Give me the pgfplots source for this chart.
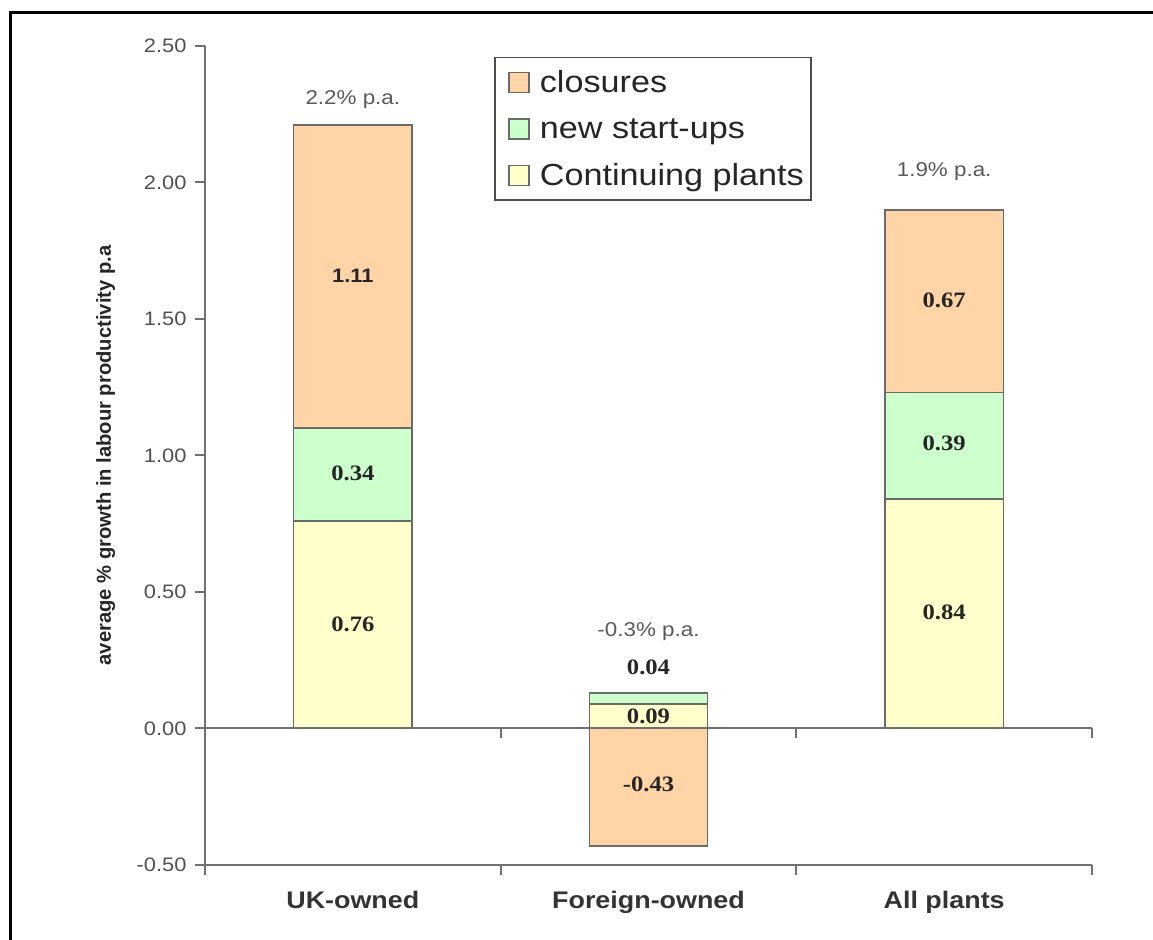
\documentclass[border=0pt]{standalone}
\usepackage{fontspec}
\setmainfont{Liberation Sans}[FakeStretch=1.12]
\newfontfamily\labelfont{Liberation Sans}
\newfontfamily\serifb{Liberation Serif}[FakeStretch=1.12]
\usepackage{pgfplots}
\usepackage{pgfplotstable}
\pgfplotsset{compat=1.18}
\definecolor{clos}{HTML}{FFD4A6}
\definecolor{start}{HTML}{CCFFCC}
\definecolor{cont}{HTML}{FFFFCC}
\definecolor{edge}{HTML}{6A6A6A}
\definecolor{axisgray}{HTML}{707070}
\definecolor{ticktext}{HTML}{505050}
\pgfplotstableread{
x    cont  start  clos
0.5  0.76  0.34   1.11
1.5  0.09  0.04  -0.43
2.5  0.84  0.39   0.67
}\datatab
\begin{document}
\begin{tikzpicture}[x=1pt,y=1pt]
\useasboundingbox (-205pt,-74pt) rectangle (948pt,865pt);
\draw[black, line width=3pt] (-194pt,-80pt) -- (-194pt,852pt) -- (960pt,852pt);
\begin{axis}[
  at={(0pt,0pt)}, anchor=south west,
  scale only axis, width=887pt, height=819pt,
  xmin=0, xmax=3, ymin=-0.5, ymax=2.5,
  ybar, bar width=0.4, bar shift=0pt,
  axis y line*=left, axis x line*=bottom,
  axis line style={axisgray, line width=2pt},
  every tick/.style={axisgray, line width=2pt},
  tick align=outside, major tick length=10pt,
  xtick={0,1,2,3}, xticklabels={},
  extra x ticks={0.5,1.5,2.5},
  extra x tick labels={UK-owned,Foreign-owned,All plants},
  extra x tick style={major tick length=0pt,
    tick label style={font=\fontsize{24}{28}\selectfont\bfseries, text=black!80, yshift=-23pt}},
  ytick={-0.5,0,0.5,1,1.5,2,2.5},
  yticklabel style={font=\fontsize{19.5}{23}\selectfont, text=ticktext, xshift=-5pt, /pgf/number format/.cd, fixed, fixed zerofill, precision=2, assume math mode=true},
  ylabel={average \% growth in labour productivity p.a},
  ylabel style={font=\labelfont\fontsize{20.2}{23}\selectfont\bfseries, text=black!85, at={(axis description cs:-0.112,0.5)}, anchor=center},
  legend style={at={(rel axis cs:0.326,0.9866)}, anchor=north west, draw=black!70, line width=1.5pt,
    font=\fontsize{30.5}{36}\selectfont, text=black!85, inner xsep=5pt, inner ysep=11pt, row sep=20pt,
    legend cell align=left},
  legend image code/.code={\path[draw=none, fill=none] (0pt,0pt) -- (38pt,0pt); \draw[#1, draw=edge, line width=1.2pt] (9pt,-10pt) rectangle (29pt,10pt);},
  clip=false,
]
\addplot[fill=clos, draw=edge, line width=1.5pt] table[x=x, y expr={ifthenelse(\thisrow{clos}>0, \thisrow{cont}+\thisrow{start}+\thisrow{clos}, \thisrow{clos})}] {\datatab};
\addplot[fill=start, draw=edge, line width=1.5pt] table[x=x, y expr=\thisrow{cont}+\thisrow{start}] {\datatab};
\addplot[fill=cont, draw=edge, line width=1.5pt] table[x=x, y=cont] {\datatab};
\legend{closures, new start-ups, Continuing plants}
\draw[axisgray, line width=2pt] (axis cs:0,0) -- (axis cs:3,0);
\draw[axisgray, line width=2pt] (axis cs:1,0) -- ++(0pt,-10pt);
\draw[axisgray, line width=2pt] (axis cs:2,0) -- ++(0pt,-10pt);
\draw[axisgray, line width=2pt] (axis cs:3,0) -- ++(0pt,-10pt);
\begin{scope}[every node/.style={font=\fontsize{20}{24}\selectfont, text=black!65}]
\node at (axis cs:0.5,2.302) {2.2\% p.a.};
\node at (axis cs:2.5,2.039) {1.9\% p.a.};
\node at (axis cs:1.5,0.355) {-0.3\% p.a.};
\end{scope}
\node[font=\fontsize{19.5}{23}\selectfont\bfseries, text=black!85] at (axis cs:0.5,1.658) {1.11};
\begin{scope}[every node/.style={font=\serifb\fontsize{22}{26}\selectfont\bfseries, text=black!85}]
\node at (axis cs:0.5,0.933) {0.34};
\node at (axis cs:0.5,0.381) {0.76};
\node at (axis cs:1.5,0.223) {0.04};
\node at (axis cs:1.5,0.044) {0.09};
\node at (axis cs:1.5,-0.205) {-0.43};
\node at (axis cs:2.5,1.570) {0.67};
\node at (axis cs:2.5,1.043) {0.39};
\node at (axis cs:2.5,0.425) {0.84};
\end{scope}
\end{axis}
\end{tikzpicture}
\end{document}
